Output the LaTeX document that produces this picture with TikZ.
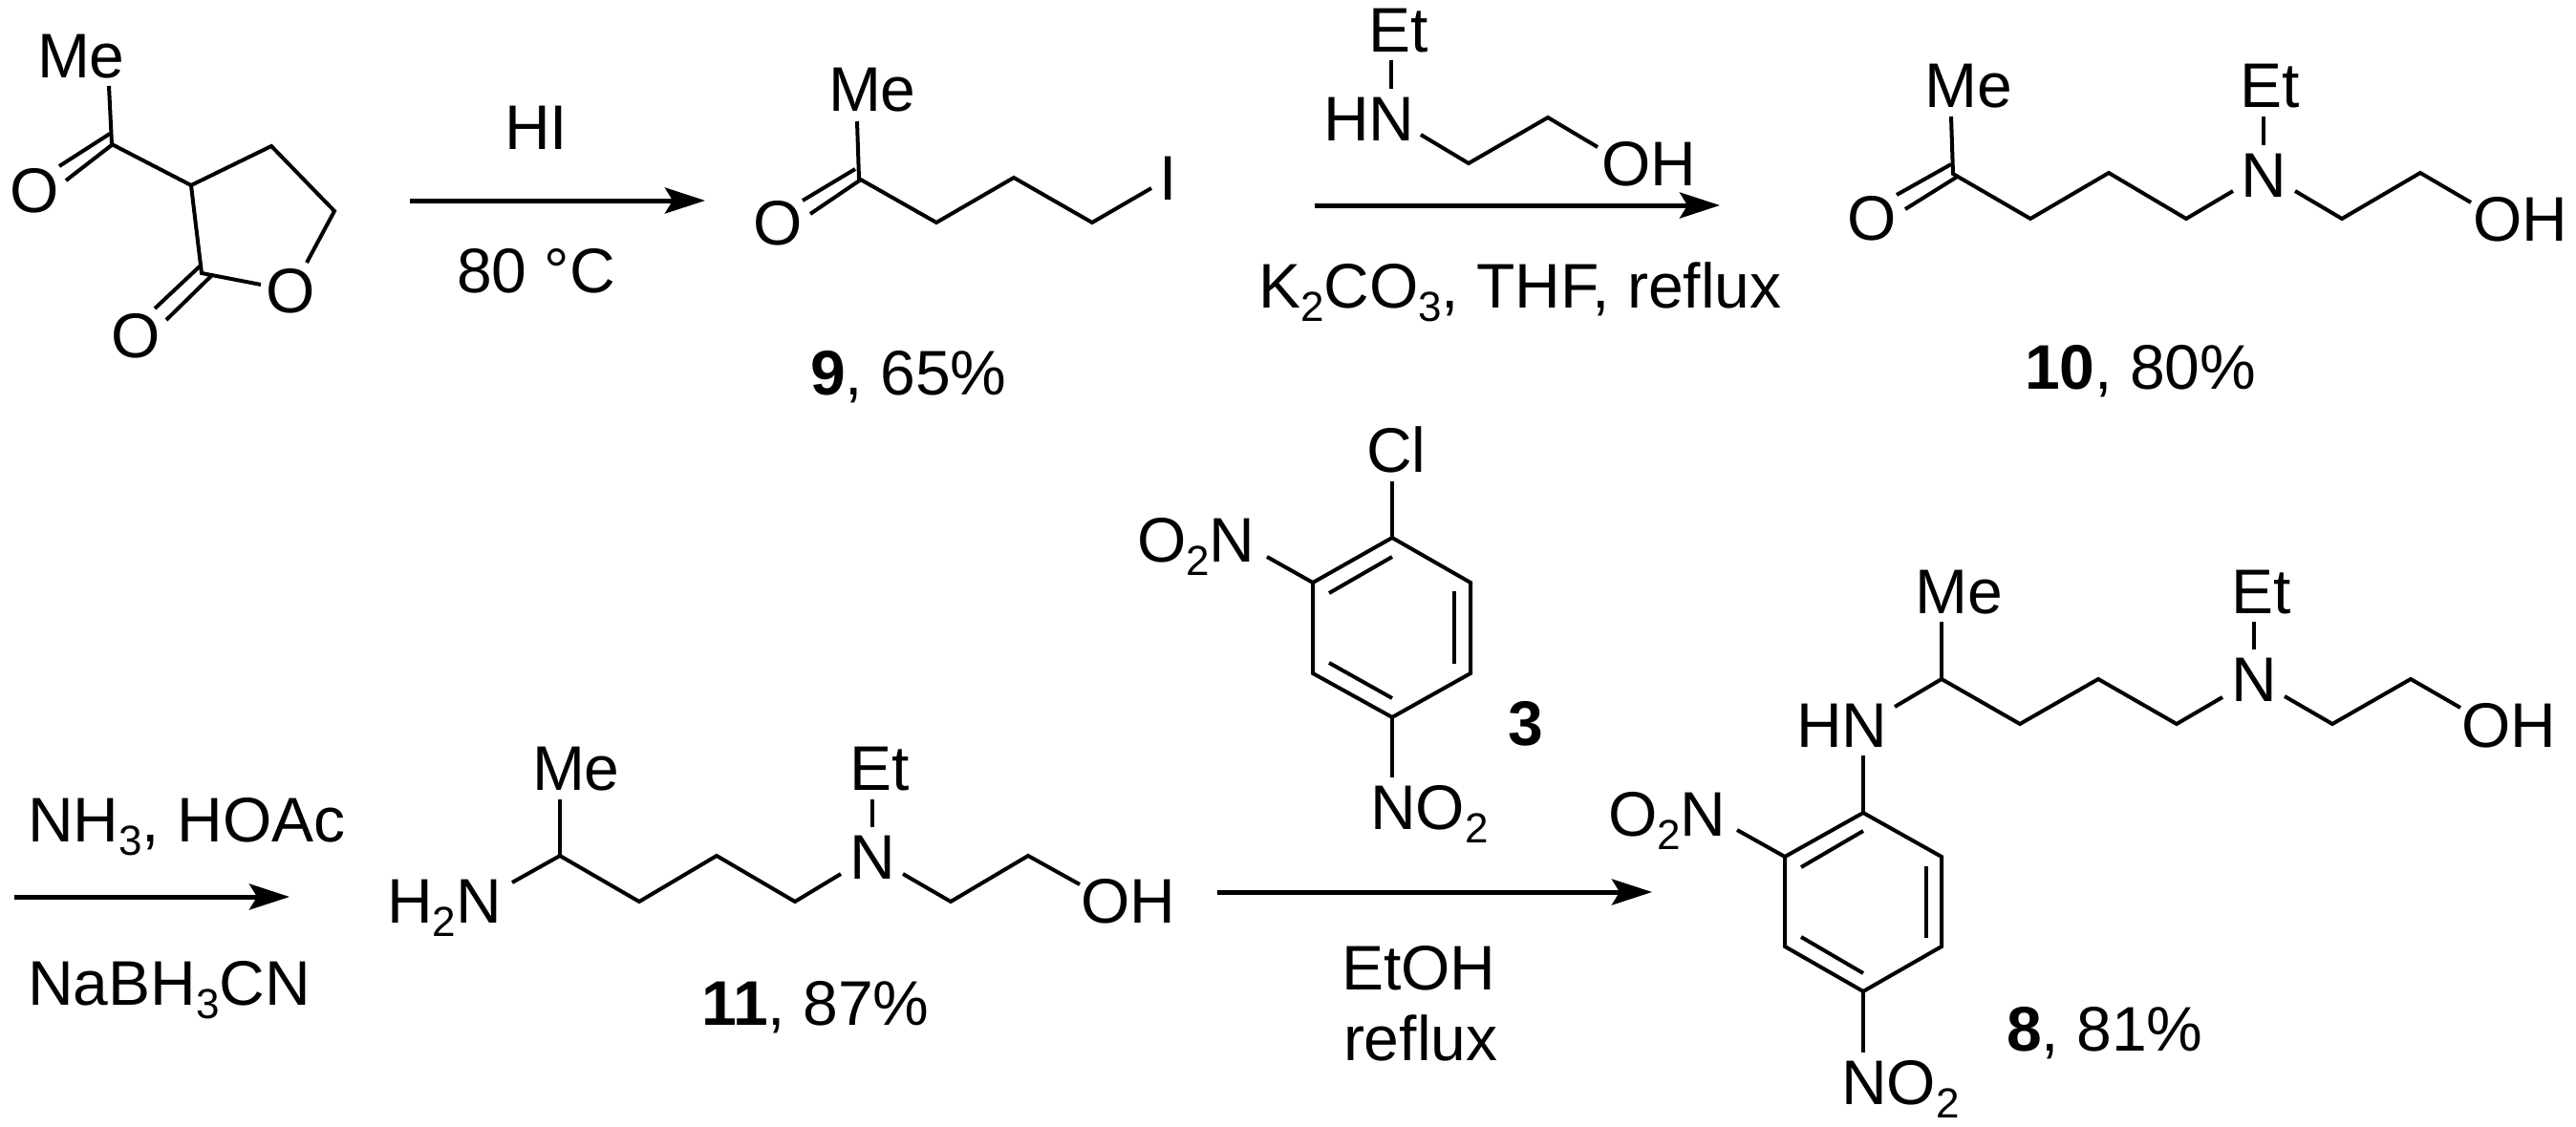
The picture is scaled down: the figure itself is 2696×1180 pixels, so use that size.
\documentclass[tikz,border=0pt]{standalone}
\usepackage{fontspec}
\setmainfont{Liberation Sans}
\usetikzlibrary{arrows.meta}
\newcommand{\subs}[1]{\raisebox{-0.22em}{\fontsize{44}{44}\selectfont #1}}
\tikzset{
  lab/.style={inner sep=0pt, outer sep=0pt, anchor=base west, xshift=-4pt, font=\fontsize{66}{74}\selectfont},
  labc/.style={inner sep=0pt, outer sep=0pt, anchor=base, font=\fontsize{66}{74}\selectfont},
  bond/.style={draw=black, line width=4pt, line join=miter},
  rxn/.style={draw=black, line width=5pt, -{Stealth[length=42pt,width=27pt,inset=8pt]}},
}
\begin{document}
\begin{tikzpicture}[x=1pt,y=-1pt]
\fill[white] (0,0) rectangle (2696,1180);
\useasboundingbox (0,0) rectangle (2696,1180);

% ---------- lactone
\node[lab] (aMe) at (43,82) {Me};
\node[labc] (aO1) at (36,222) {O};
\node[labc] (aO2) at (304,327) {O};
\node[labc] (aO3) at (142,374) {O};
\coordinate (a1) at (114,90);
\coordinate (a2) at (117,151);
\coordinate (a3) at (200,194);
\coordinate (a4) at (284,153);
\coordinate (a5) at (350,221);
\coordinate (a6) at (321,275);
\coordinate (a7) at (273,298);
\coordinate (a8) at (211,286);
\coordinate (a9) at (115,140);
\coordinate (a10) at (62,174);
\coordinate (a11) at (118,151);
\coordinate (a12) at (69,189);
\coordinate (a13) at (211,277);
\coordinate (a14) at (162,323);
\coordinate (a15) at (221,289);
\coordinate (a16) at (174,335);
\draw[bond] (a1) -- (a2) -- (a3) -- (a4) -- (a5) -- (a6);
\draw[bond] (a3) -- (a8) -- (a7);
\draw[bond] (a9) -- (a10);
\draw[bond] (a11) -- (a12);
\draw[bond] (a13) -- (a14);
\draw[bond] (a15) -- (a16);

% ---------- arrow 1
\coordinate (r1a) at (429,210);
\coordinate (r1b) at (738,210);
\draw[rxn] (r1a) -- (r1b);
\node[labc] (hi) at (561,157) {HI};
\node[labc] (t80) at (561,306) {80 °C};

% ---------- compound 9
\node[lab] (bMe) at (871,117) {Me};
\node[labc] (bO) at (814,256) {O};
\node[labc] (bI) at (1223,209) {I};
\node[lab] (b9) at (852,413) {\textbf{9}, 65\%};
\coordinate (b1) at (897,127);
\coordinate (b2) at (899,187);
\coordinate (b3) at (980,233);
\coordinate (b4) at (1061,186);
\coordinate (b5) at (1143,233);
\coordinate (b6) at (1205,197);
\coordinate (b7) at (895,177);
\coordinate (b8) at (840,210);
\coordinate (b9a) at (901,188);
\coordinate (b10) at (848,224);
\draw[bond] (b1) -- (b2) -- (b3) -- (b4) -- (b5) -- (b6);
\draw[bond] (b7) -- (b8);
\draw[bond] (b9a) -- (b10);

% ---------- reagent over arrow 2
\node[lab] (cEt) at (1436,55) {Et};
\node[lab] (cHN) at (1389,147) {HN};
\node[lab] (cOH) at (1680,194) {OH};
\coordinate (c1) at (1456,63);
\coordinate (c2) at (1456,93);
\coordinate (c3) at (1487,141);
\coordinate (c4) at (1537,171);
\coordinate (c5) at (1620,123);
\coordinate (c6) at (1672,154);
\draw[bond] (c1) -- (c2);
\draw[bond] (c3) -- (c4) -- (c5) -- (c6);
\coordinate (r2a) at (1376,215);
\coordinate (r2b) at (1800,215);
\draw[rxn] (r2a) -- (r2b);
\node[lab] (k2) at (1321,322) {K\subs{2}CO\subs{3}, THF, reflux};

% ---------- compound 10
\node[lab] (dMe) at (2018,113) {Me};
\node[labc] (dO) at (1959,251) {O};
\node[lab] (dEt) at (2348,113) {Et};
\node[labc] (dN) at (2369,206) {N};
\node[lab] (dOH) at (2592,252) {OH};
\node[lab] (d10) at (2123,407) {\textbf{10}, 80\%};
\coordinate (d1) at (2042,122);
\coordinate (d2) at (2044,182);
\coordinate (d3) at (2125,229);
\coordinate (d4) at (2207,181);
\coordinate (d5) at (2288,229);
\coordinate (d6) at (2337,200);
\coordinate (d7) at (2042,172);
\coordinate (d8) at (1985,204);
\coordinate (d9) at (2050,184);
\coordinate (d10a) at (1994,219);
\coordinate (d11) at (2369,122);
\coordinate (d12) at (2369,152);
\coordinate (d13) at (2402,200);
\coordinate (d14) at (2451,229);
\coordinate (d15) at (2533,181);
\coordinate (d16) at (2586,212);
\draw[bond] (d1) -- (d2) -- (d3) -- (d4) -- (d5) -- (d6);
\draw[bond] (d7) -- (d8);
\draw[bond] (d9) -- (d10a);
\draw[bond] (d11) -- (d12);
\draw[bond] (d13) -- (d14) -- (d15) -- (d16);

% ---------- arrow 3
\coordinate (r3a) at (15,939);
\coordinate (r3b) at (303,939);
\draw[rxn] (r3a) -- (r3b);
\node[lab] (nh3) at (33,881) {NH\subs{3}, HOAc};
\node[lab] (nab) at (33,1052) {NaBH\subs{3}CN};

% ---------- compound 11
\node[lab] (eH2N) at (409,966) {H\subs{2}N};
\node[lab] (eMe) at (561,827) {Me};
\node[lab] (eEt) at (893,827) {Et};
\node[labc] (eN) at (913,920) {N};
\node[lab] (eOH) at (1135,966) {OH};
\node[lab] (e11) at (738,1073) {\textbf{11}, 87\%};
\coordinate (e1) at (586,837);
\coordinate (e2) at (586,896);
\coordinate (e3) at (536,924);
\coordinate (e4) at (669,944);
\coordinate (e5) at (750,896);
\coordinate (e6) at (832,944);
\coordinate (e7) at (880,915);
\coordinate (e8) at (913,837);
\coordinate (e9) at (913,866);
\coordinate (e10) at (945,915);
\coordinate (e11a) at (995,944);
\coordinate (e12) at (1076,896);
\coordinate (e13) at (1130,926);
\draw[bond] (e1) -- (e2);
\draw[bond] (e3) -- (e2) -- (e4) -- (e5) -- (e6) -- (e7);
\draw[bond] (e8) -- (e9);
\draw[bond] (e10) -- (e11a) -- (e12) -- (e13);

% ---------- reagent 3
\node[lab] (fCl) at (1434,494) {Cl};
\node[lab] (fO2N) at (1194,588) {O\subs{2}N};
\node[lab] (fNO2) at (1438,868) {NO\subs{2}};
\node[labc,font=\fontsize{66}{74}\selectfont\bfseries] (f3) at (1597,780) {3};
\coordinate (f0) at (1457,504);
\coordinate (f1) at (1457,563);
\coordinate (f2) at (1539,610);
\coordinate (f3a) at (1539,705);
\coordinate (f4) at (1457,751);
\coordinate (f5) at (1374,705);
\coordinate (f6) at (1374,610);
\coordinate (f7) at (1326,583);
\coordinate (f8) at (1457,814);
\coordinate (f9) at (1457,583);
\coordinate (f10) at (1391,621);
\coordinate (f11) at (1522,619);
\coordinate (f12) at (1522,695);
\coordinate (f13) at (1391,694);
\coordinate (f14) at (1457,731);
\draw[bond] (f1) -- (f2) -- (f3a) -- (f4) -- (f5) -- (f6) -- cycle;
\draw[bond] (f0) -- (f1);
\draw[bond] (f6) -- (f7);
\draw[bond] (f4) -- (f8);
\draw[bond] (f9) -- (f10);
\draw[bond] (f11) -- (f12);
\draw[bond] (f13) -- (f14);

% ---------- arrow 4
\coordinate (r4a) at (1274,934);
\coordinate (r4b) at (1729,934);
\draw[rxn] (r4a) -- (r4b);
\node[lab] (etoh) at (1408,1036) {EtOH};
\node[lab] (refl) at (1410,1110) {reflux};

% ---------- compound 8
\node[lab] (gMe) at (2008,642) {Me};
\node[lab] (gEt) at (2339,642) {Et};
\node[labc] (gN) at (2359,734) {N};
\node[lab] (gOH) at (2580,782) {OH};
\node[lab] (gHN) at (1884,782) {HN};
\node[lab] (gO2N) at (1687,875) {O\subs{2}N};
\node[lab] (gNO2) at (1931,1156) {NO\subs{2}};
\node[lab] (g8) at (2104,1100) {\textbf{8}, 81\%};
\coordinate (g1) at (2032,651);
\coordinate (g2) at (2032,711);
\coordinate (g3) at (1983,740);
\coordinate (g4) at (2114,758);
\coordinate (g5) at (2196,711);
\coordinate (g6) at (2278,758);
\coordinate (g7) at (2326,730);
\coordinate (g8a) at (2359,651);
\coordinate (g9) at (2359,680);
\coordinate (g10) at (2391,729);
\coordinate (g11) at (2441,758);
\coordinate (g12) at (2523,711);
\coordinate (g13) at (2575,741);
\coordinate (g14) at (1950,791);
\coordinate (h1) at (1950,851);
\coordinate (h2) at (2032,897);
\coordinate (h3) at (2032,991);
\coordinate (h4) at (1950,1038);
\coordinate (h5) at (1868,991);
\coordinate (h6) at (1868,897);
\coordinate (h7) at (1818,869);
\coordinate (h8) at (1950,1102);
\coordinate (h9) at (1950,870);
\coordinate (h10) at (1885,908);
\coordinate (h11) at (2016,907);
\coordinate (h12) at (2016,982);
\coordinate (h13) at (1885,981);
\coordinate (h14) at (1950,1019);
\draw[bond] (g1) -- (g2);
\draw[bond] (g3) -- (g2) -- (g4) -- (g5) -- (g6) -- (g7);
\draw[bond] (g8a) -- (g9);
\draw[bond] (g10) -- (g11) -- (g12) -- (g13);
\draw[bond] (g14) -- (h1);
\draw[bond] (h1) -- (h2) -- (h3) -- (h4) -- (h5) -- (h6) -- cycle;
\draw[bond] (h6) -- (h7);
\draw[bond] (h4) -- (h8);
\draw[bond] (h9) -- (h10);
\draw[bond] (h11) -- (h12);
\draw[bond] (h13) -- (h14);
\end{tikzpicture}
\end{document}
